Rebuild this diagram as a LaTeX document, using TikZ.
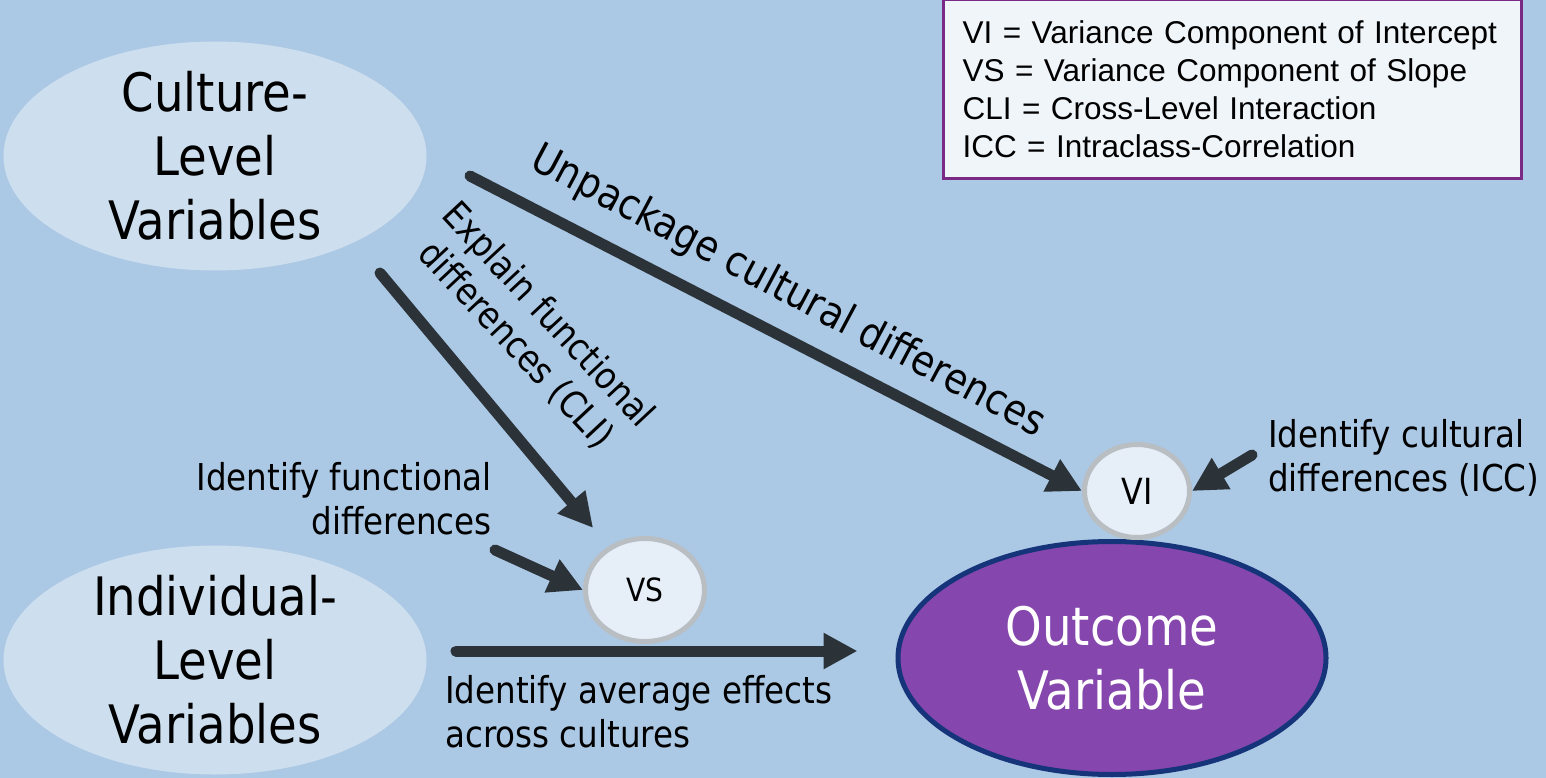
\documentclass[tikz,border=0pt]{standalone}
\usepackage{fontspec}
\setmainfont[FakeStretch=0.88]{DejaVu Sans}
\newfontfamily\keyfont{Liberation Sans}
\usetikzlibrary{positioning,arrows.meta,shapes.geometric,calc}
\definecolor{ccBg}{RGB}{171,200,228}
\definecolor{ccPale}{RGB}{205,223,238}
\definecolor{ccPurple}{RGB}{133,71,173}
\definecolor{ccNavy}{RGB}{22,52,122}
\definecolor{ccDark}{RGB}{43,50,56}
\definecolor{ccGray}{RGB}{185,190,195}
\definecolor{ccComp}{RGB}{230,238,248}
\definecolor{ccKey}{RGB}{122,42,133}
\definecolor{ccKeyFill}{RGB}{240,245,250}
\tikzset{
    base/.style={align=center, inner sep=0pt},
    level/.style={ellipse, fill=ccPale, minimum width=423pt, minimum height=229pt},
    outcome/.style={ellipse, draw=ccNavy, line width=5pt, fill=ccPurple,
                    minimum width=428pt, minimum height=233pt},
    comp/.style={base, ellipse, draw=ccGray, line width=5pt, fill=ccComp},
    bigtext/.style={base, font=\fontsize{53}{64}\selectfont},
    note/.style={base, font=\fontsize{37}{44}\selectfont},
    flow/.style={-{Triangle[length=34pt,width=34pt]}, line width=11pt,
                 line cap=round, color=ccDark},
    keybox/.style={draw=ccKey, line width=3pt, fill=ccKeyFill, align=left,
                   text width=540pt, inner xsep=19pt, minimum height=179pt,
                   font=\keyfont\fontsize{31.5}{38}\selectfont}
}
\begin{document}
\begin{tikzpicture}[x=1pt, y=-1pt]
  % Background
  \useasboundingbox (0,0) rectangle (1546,778);
  \fill[ccBg] (0,0) rectangle (1546,778);

  % Levels and outcome
  \node[level] (cul) at (215,156) {};
  \node[level] (ind) at (215,660) {};
  \node[outcome] (out) at (1112,658) {};
  \node[bigtext] (culT) at (cul) {Culture-\\Level\\Variables};
  \node[bigtext] (indT) at (ind) {Individual-\\Level\\Variables};
  \node[bigtext, text=white] (outT) at (out) {Outcome\\Variable};

  % Variance components
  \node[comp, minimum width=119pt, minimum height=103pt,
        font=\fontsize{32}{38}\selectfont] (vs) at (645,590) {VS};
  \node[comp, minimum width=105pt, minimum height=93pt,
        font=\fontsize{36}{40}\selectfont] (vi) at (1137,491) {VI};

  % Arrow starts
  \coordinate (unpA) at (470,176);
  \coordinate (cliA) at (380,273);
  \coordinate (funA) at (495,550);
  \coordinate (avgA) at (456,651);
  \coordinate (iccA) at (1252,455);

  % Arrows
  \draw[flow] (unpA) -- (vi.west);
  \draw[flow, shorten >=24pt] (cliA) -- (vs);
  \draw[flow] (funA) -- (vs.west);
  \draw[flow, shorten >=38pt] (avgA) -- (avgA -| out.west);
  \draw[flow] (iccA) -- (vi.east);

  % Labels
  \node[note, rotate=-28, font=\fontsize{42}{48}\selectfont] (unpL) at (788,292)
    {Unpackage cultural differences};
  \node[note, rotate=-47] (cliL) at (532,330) {Explain functional\\differences (CLI)};
  \node[note, anchor=east, align=right] (funL) at (492,499) {Identify functional\\differences};
  \node[note, anchor=west, align=left] (avgL) at (445,712) {Identify average effects\\across cultures};
  \node[note, anchor=west, align=left] (iccL) at (1268,458) {Identify cultural\\differences (ICC)};

  % Key
  \node[keybox, anchor=north east] (key) at (1523,-2) {%
    VI = Variance Component of Intercept\\
    VS = Variance Component of Slope\\
    CLI = Cross-Level Interaction\\
    ICC = Intraclass-Correlation};
\end{tikzpicture}
\end{document}
